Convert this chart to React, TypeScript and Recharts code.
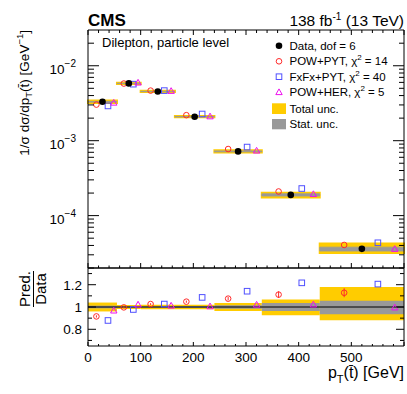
import {
  ComposedChart,
  ErrorBar,
  ReferenceArea,
  ReferenceLine,
  Scatter,
  XAxis,
  YAxis
} from "recharts";

// bins in GeV
const BIN_EDGES = [0, 55, 100, 165, 240, 330, 440, 600];

// 1/sigma dsigma/dpT, [GeV^-1]
const DATA = [3.31e-3, 5.81e-3, 4.54e-3, 2.09e-3, 7.2e-4, 1.89e-4, 3.6e-5];
const POW_PYT = [3.03e-3, 5.79e-3, 4.66e-3, 2.19e-3, 7.74e-4, 2.1e-4, 4.06e-5];
const FXFX_PYT = [2.91e-3, 5.68e-3, 4.66e-3, 2.27e-3, 8.22e-4, 2.3e-4, 4.34e-5];
const POW_HER = [3.2e-3, 5.93e-3, 4.59e-3, 2.1e-3, 7.34e-4, 1.93e-4, 3.58e-5];
const POW_PYT_RATIO_ERR = [0.01, 0.008, 0.008, 0.01, 0.015, 0.03, 0.04];

// relative uncertainties
const TOTAL_UP = [0.04, 0.018, 0.02, 0.02, 0.037, 0.067, 0.18];
const TOTAL_DOWN = [0.04, 0.018, 0.02, 0.02, 0.037, 0.075, 0.12];
const STAT_UP = [0.012, 0.006, 0.006, 0.008, 0.015, 0.035, 0.055];
const STAT_DOWN = [0.012, 0.006, 0.006, 0.008, 0.015, 0.035, 0.065];

const LEGEND_LABELS = ["Data, dof = 6", "POW+PYT", "FxFx+PYT", "POW+HER"];
const CHI2 = [14, 40, 5];

const X_TICKS = [
  0, 20, 40, 60, 80, 100, 120, 140, 160, 180, 200, 220, 240, 260, 280, 300,
  320, 340, 360, 380, 400, 420, 440, 460, 480, 500, 520, 540, 560, 580, 600
];
const X_LABELS = [0, 100, 200, 300, 400, 500];
const LOG_TICKS = [
  2e-5, 3e-5, 4e-5, 5e-5, 6e-5, 7e-5, 8e-5, 9e-5,
  1e-4, 2e-4, 3e-4, 4e-4, 5e-4, 6e-4, 7e-4, 8e-4, 9e-4,
  1e-3, 2e-3, 3e-3, 4e-3, 5e-3, 6e-3, 7e-3, 8e-3, 9e-3,
  1e-2, 2e-2
];
const RATIO_TICKS = [0.7, 0.8, 0.9, 1, 1.1, 1.2, 1.3];
const RATIO_LABELS = [0.8, 1, 1.2];

const YELLOW = "#ffcc00";
const GRAY = "#999999";
const RED = "#ff2a2a";
const BLUE = "#5050ff";
const MAGENTA = "#ee11ee";

// where each marker sits inside its bin
const pos = (i: number, f: number) =>
  BIN_EDGES[i] + f * (BIN_EDGES[i + 1] - BIN_EDGES[i]);

const dataPts = DATA.map((y, i) => ({ x: pos(i, 0.5), y }));
const powPts = POW_PYT.map((y, i) => ({ x: pos(i, 0.29), y }));
const fxfxPts = FXFX_PYT.map((y, i) => ({ x: pos(i, 0.69), y }));
const herPts = POW_HER.map((y, i) => ({ x: pos(i, 0.89), y }));

const powRatio = POW_PYT.map((v, i) => ({ x: pos(i, 0.29), y: v / DATA[i], err: POW_PYT_RATIO_ERR[i] }));
const fxfxRatio = FXFX_PYT.map((v, i) => ({ x: pos(i, 0.69), y: v / DATA[i] }));
const herRatio = POW_HER.map((v, i) => ({ x: pos(i, 0.89), y: v / DATA[i] }));

function DataDot({ cx, cy }: any) {
  return <circle cx={cx} cy={cy} r={3.3} fill="#000" />;
}
function PowMark({ cx, cy }: any) {
  return <circle cx={cx} cy={cy} r={2.8} fill="none" stroke={RED} strokeWidth={1} />;
}
function FxFxMark({ cx, cy }: any) {
  return <rect x={cx - 2.8} y={cy - 2.8} width={5.6} height={5.6} fill="none" stroke={BLUE} strokeWidth={1} />;
}
function HerMark({ cx, cy }: any) {
  return (
    <polygon
      points={`${cx},${cy - 3.4} ${cx + 3.2},${cy + 2.3} ${cx - 3.2},${cy + 2.3}`}
      fill="none"
      stroke={MAGENTA}
      strokeWidth={1}
    />
  );
}

const xTick = (dir: number, majorLen: number, minorLen: number, labels: boolean) =>
  (props: any) => {
    const { x, y, payload } = props;
    const v = payload.value;
    const major = v % 100 === 0;
    return (
      <g>
        <line x1={x} x2={x} y1={y} y2={y + dir * (major ? majorLen : minorLen)} stroke="#000" />
        {labels && X_LABELS.includes(v) && (
          <text x={x} y={y + 16} textAnchor="middle" fontSize={13.5} fill="#000">
            {v}
          </text>
        )}
      </g>
    );
  };

const logTick = (dir: number, majorLen: number, minorLen: number, labels: boolean) =>
  (props: any) => {
    const { x, y, payload } = props;
    const lg = Math.log10(payload.value);
    const e = Math.round(lg);
    const major = Math.abs(lg - e) < 1e-6;
    return (
      <g>
        <line x1={x} x2={x + dir * (major ? majorLen : minorLen)} y1={y} y2={y} stroke="#000" />
        {labels && major && (
          <text x={x - 12} y={y + 8} textAnchor="end" fontSize={13.5} fill="#000">
            10
            <tspan dy={-7} fontSize={10}>{`\u2212${-e}`}</tspan>
          </text>
        )}
      </g>
    );
  };

const ratioTick = (dir: number, labels: boolean) =>
  (props: any) => {
    const { x, y, payload } = props;
    const v = payload.value;
    const major = RATIO_LABELS.some((m) => Math.abs(m - v) < 1e-6);
    return (
      <g>
        <line x1={x} x2={x + dir * (major ? 8 : 4)} y1={y} y2={y} stroke="#000" />
        {labels && major && (
          <text x={x - 6} y={y + 5} textAnchor="end" fontSize={13.5} fill="#000">
            {v === 1 ? "1" : v.toFixed(1)}
          </text>
        )}
      </g>
    );
  };

function TopPanel() {
  return (
    <ComposedChart width={407} height={270} margin={{ top: 0, right: 0, bottom: 0, left: 0 }}>
      <XAxis
        dataKey="x"
        type="number"
        domain={[0, 600]}
        ticks={X_TICKS}
        interval={0}
        height={2}
        tickSize={0}
        tickMargin={0}
        tickLine={false}
        axisLine={{ stroke: "#000" }}
        tick={xTick(-1, 5, 2.5, false)}
        allowDataOverflow
      />
      <XAxis
        xAxisId="top"
        orientation="top"
        dataKey="x"
        type="number"
        domain={[0, 600]}
        ticks={X_TICKS}
        interval={0}
        height={30}
        tickSize={0}
        tickMargin={0}
        tickLine={false}
        axisLine={{ stroke: "#000" }}
        tick={xTick(1, 5, 3, false)}
        allowDataOverflow
      />
      <YAxis
        dataKey="y"
        type="number"
        scale="log"
        domain={[2e-5, 0.03]}
        ticks={LOG_TICKS}
        interval={0}
        width={88}
        tickSize={0}
        tickMargin={0}
        tickLine={false}
        axisLine={{ stroke: "#000" }}
        tick={logTick(1, 11, 6, true)}
        allowDataOverflow
      />
      <YAxis
        yAxisId="right"
        orientation="right"
        dataKey="y"
        type="number"
        scale="log"
        domain={[2e-5, 0.03]}
        ticks={LOG_TICKS}
        interval={0}
        width={3}
        tickSize={0}
        tickMargin={0}
        tickLine={false}
        axisLine={{ stroke: "#000" }}
        tick={logTick(-1, 11, 5, false)}
        allowDataOverflow
      />
      {DATA.map((v, i) => (
        <ReferenceArea
          key={`t${i}`}
          x1={BIN_EDGES[i]}
          x2={BIN_EDGES[i + 1]}
          y1={v * (1 - TOTAL_DOWN[i])}
          y2={v * (1 + TOTAL_UP[i])}
          fill={YELLOW}
          fillOpacity={1}
          stroke={YELLOW}
          strokeWidth={2}
        />
      ))}
      {DATA.map((v, i) => (
        <ReferenceArea
          key={`s${i}`}
          x1={BIN_EDGES[i]}
          x2={BIN_EDGES[i + 1]}
          y1={v * (1 - STAT_DOWN[i])}
          y2={v * (1 + STAT_UP[i])}
          fill={GRAY}
          fillOpacity={1}
          stroke={GRAY}
          strokeWidth={0.8}
        />
      ))}
      <Scatter data={powPts} dataKey="y" isAnimationActive={false} shape={(p: any) => <PowMark cx={p.cx} cy={p.cy} />} />
      <Scatter data={fxfxPts} dataKey="y" isAnimationActive={false} shape={(p: any) => <FxFxMark cx={p.cx} cy={p.cy} />} />
      <Scatter data={herPts} dataKey="y" isAnimationActive={false} shape={(p: any) => <HerMark cx={p.cx} cy={p.cy} />} />
      <Scatter data={dataPts} dataKey="y" isAnimationActive={false} shape={(p: any) => <DataDot cx={p.cx} cy={p.cy} />} />
    </ComposedChart>
  );
}

function RatioPanel() {
  return (
    <ComposedChart width={407} height={132} margin={{ top: 0, right: 0, bottom: 0, left: 0 }}>
      <XAxis
        dataKey="x"
        type="number"
        domain={[0, 600]}
        ticks={X_TICKS}
        interval={0}
        height={48}
        tickSize={0}
        tickMargin={0}
        tickLine={false}
        axisLine={{ stroke: "#000" }}
        tick={xTick(-1, 4, 2, true)}
        allowDataOverflow
      />
      <XAxis
        xAxisId="top"
        orientation="top"
        dataKey="x"
        type="number"
        domain={[0, 600]}
        height={6}
        tick={false}
        tickLine={false}
        axisLine={{ stroke: "#000" }}
        allowDataOverflow
      />
      <YAxis
        dataKey="y"
        type="number"
        domain={[0.65, 1.35]}
        ticks={RATIO_TICKS}
        interval={0}
        width={88}
        tickSize={0}
        tickMargin={0}
        tickLine={false}
        axisLine={{ stroke: "#000" }}
        tick={ratioTick(1, true)}
        allowDataOverflow
      />
      <YAxis
        yAxisId="right"
        orientation="right"
        dataKey="y"
        type="number"
        domain={[0.65, 1.35]}
        ticks={RATIO_TICKS}
        interval={0}
        width={3}
        tickSize={0}
        tickMargin={0}
        tickLine={false}
        axisLine={{ stroke: "#000" }}
        tick={ratioTick(-1, false)}
        allowDataOverflow
      />
      {DATA.map((_, i) => (
        <ReferenceArea
          key={`t${i}`}
          x1={BIN_EDGES[i]}
          x2={BIN_EDGES[i + 1]}
          y1={1 - TOTAL_DOWN[i]}
          y2={1 + TOTAL_UP[i]}
          fill={YELLOW}
          fillOpacity={1}
          stroke="none"
        />
      ))}
      {DATA.map((_, i) => (
        <ReferenceArea
          key={`s${i}`}
          x1={BIN_EDGES[i]}
          x2={BIN_EDGES[i + 1]}
          y1={1 - STAT_DOWN[i]}
          y2={1 + STAT_UP[i]}
          fill={GRAY}
          fillOpacity={1}
          stroke="none"
        />
      ))}
      <ReferenceLine y={1} stroke="#000" strokeWidth={1} />
      <Scatter data={powRatio} dataKey="y" isAnimationActive={false} shape={(p: any) => <PowMark cx={p.cx} cy={p.cy} />}>
        <ErrorBar dataKey="err" direction="y" width={0} stroke={RED} strokeWidth={1} isAnimationActive={false} />
      </Scatter>
      <Scatter data={fxfxRatio} dataKey="y" isAnimationActive={false} shape={(p: any) => <FxFxMark cx={p.cx} cy={p.cy} />} />
      <Scatter data={herRatio} dataKey="y" isAnimationActive={false} shape={(p: any) => <HerMark cx={p.cx} cy={p.cy} />} />
    </ComposedChart>
  );
}

function Labels() {
  const rows = [45.7, 61.3, 76.7, 92.3];
  return (
    <svg
      width={407}
      height={394}
      style={{ position: "absolute", left: 0, top: 0, pointerEvents: "none" }}
    >
      <text x={88} y={26} fontSize={17} fontWeight="bold">CMS</text>
      <text x={404} y={26} fontSize={15.5} textAnchor="end">
        138 fb<tspan dy={-6} fontSize={10}>-1</tspan>
        <tspan dy={6}> (13 TeV)</tspan>
      </text>
      <text x={102} y={47.3} fontSize={13}>Dilepton, particle level</text>

      <DataDot cx={279} cy={rows[0]} />
      <PowMark cx={279} cy={rows[1]} />
      <FxFxMark cx={279} cy={rows[2]} />
      <HerMark cx={279} cy={rows[3]} />
      <text x={289.5} y={rows[0] + 4} fontSize={11.5}>{LEGEND_LABELS[0]}</text>
      {CHI2.map((c, k) => (
        <text key={k} x={289.5} y={rows[k + 1] + 4} fontSize={11.5}>
          {LEGEND_LABELS[k + 1]}, χ<tspan dy={-5} fontSize={8}>2</tspan>
          <tspan dy={5}>{` = ${c}`}</tspan>
        </text>
      ))}
      <rect x={272} y={103.3} width={14} height={10.7} fill={YELLOW} />
      <rect x={272} y={119} width={14} height={10.3} fill={GRAY} />
      <text x={289.5} y={112.5} fontSize={11.5}>Total unc.</text>
      <text x={289.5} y={128} fontSize={11.5}>Stat. unc.</text>

      <text transform="translate(28.5,30) rotate(-90)" textAnchor="end" fontSize={13.5}>
        1/σ dσ/dp<tspan dy={3} fontSize={9.5}>T</tspan>
        <tspan dy={-3}>(t̄) [GeV</tspan>
        <tspan dy={-6} fontSize={9.5}>−1</tspan>
        <tspan dy={6}>]</tspan>
      </text>

      <text transform="translate(29.5,289) rotate(-90)" textAnchor="middle" fontSize={15}>Pred.</text>
      <line x1={33.5} x2={33.5} y1={271} y2={307} stroke="#000" />
      <text transform="translate(46,289) rotate(-90)" textAnchor="middle" fontSize={15}>Data</text>

      <text x={404} y={377.5} textAnchor="end" fontSize={16}>
        p<tspan dy={5} fontSize={11}>T</tspan>
        <tspan dy={-5}>(t̄) [GeV]</tspan>
      </text>
    </svg>
  );
}

export default function App() {
  return (
    <div
      style={{
        position: "absolute",
        left: 0,
        top: 0,
        width: 407,
        height: 394,
        background: "#fff",
        fontFamily: "'Liberation Sans', Arial, sans-serif"
      }}
    >
      <div style={{ position: "absolute", left: 0, top: 0 }}>
        <TopPanel />
      </div>
      <div style={{ position: "absolute", left: 0, top: 262 }}>
        <RatioPanel />
      </div>
      <Labels />
    </div>
  );
}
